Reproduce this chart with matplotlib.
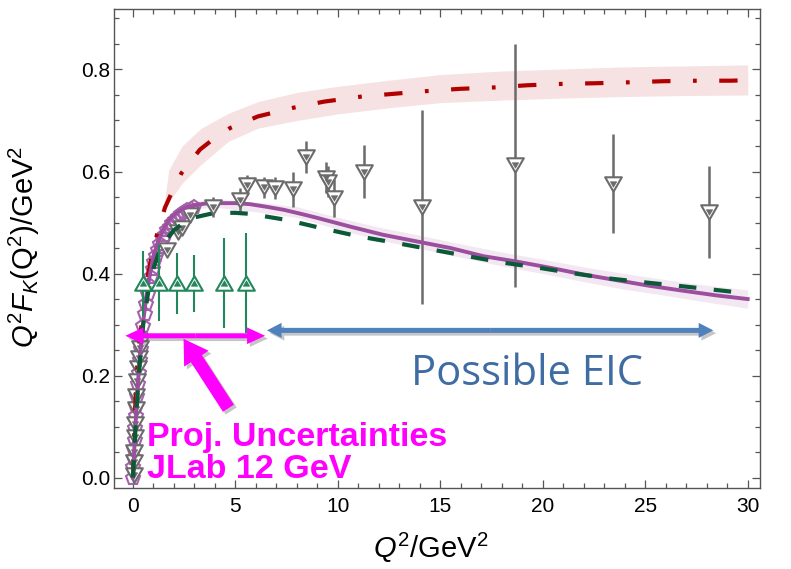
import matplotlib
matplotlib.use("Agg")
import matplotlib.pyplot as plt
import matplotlib.patheffects as pe
from matplotlib.patches import FancyArrowPatch
from matplotlib.ticker import MultipleLocator, FormatStrFormatter
from matplotlib.path import Path

plt.rcParams["font.family"] = ["Liberation Sans", "DejaVu Sans"]
plt.rcParams["mathtext.fontset"] = "custom"
plt.rcParams["mathtext.rm"] = "Liberation Sans"
plt.rcParams["mathtext.it"] = "Liberation Sans:italic"

# ---- theory curves -------------------------------------------------------
purple_x = [0.0, 0.1, 0.2, 0.3, 0.4, 0.5, 0.65, 0.8, 1.0, 1.25, 1.5, 1.75, 2.0, 2.5, 3.0,
            3.5, 4.0, 4.5, 5.0, 5.7, 6.5, 7.35, 8.2, 9.0, 10.6, 12.2, 14.1, 15.5, 17.1,
            18.65, 20.4, 22.0, 23.6, 25.2, 26.9, 28.5, 30.0]
purple_y = [0.0, 0.085, 0.158, 0.218, 0.265, 0.305, 0.355, 0.392, 0.433, 0.466, 0.488, 0.505,
            0.515, 0.528, 0.534, 0.537, 0.538, 0.538, 0.538, 0.536, 0.531, 0.525, 0.517,
            0.509, 0.492, 0.476, 0.461, 0.450, 0.434, 0.424, 0.411, 0.398, 0.387, 0.376,
            0.366, 0.357, 0.350]

purple_band_x = [1.0, 2.0, 3.0, 4.0, 6.0, 8.0, 10.0, 12.0, 14.0, 16.0, 18.0, 20.0, 22.0,
                 24.0, 26.0, 28.0, 30.0]
purple_band_hi = [0.438, 0.521, 0.541, 0.546, 0.540, 0.531, 0.510, 0.491, 0.475, 0.458,
                  0.442, 0.428, 0.413, 0.400, 0.388, 0.377, 0.368]
purple_band_lo = [0.428, 0.509, 0.527, 0.530, 0.521, 0.510, 0.487, 0.466, 0.449, 0.432,
                  0.415, 0.400, 0.384, 0.369, 0.357, 0.344, 0.332]

green_x = [0.0, 0.1, 0.2, 0.3, 0.5, 0.75, 1.0, 1.25, 1.5, 2.0, 2.5, 3.0, 4.0, 5.0, 5.72,
           7.5, 9.2, 11.0, 12.7, 14.45, 16.2, 17.95, 19.7, 21.4, 23.1, 24.9, 26.6, 28.4, 30.0]
green_y = [0.0, 0.08, 0.15, 0.21, 0.30, 0.365, 0.41, 0.44, 0.46, 0.485, 0.50, 0.51, 0.519,
           0.519, 0.517, 0.505, 0.489, 0.473, 0.461, 0.448, 0.435, 0.422, 0.412, 0.401,
           0.391, 0.383, 0.376, 0.368, 0.361]

red_x = [0.0, 0.1, 0.2, 0.3, 0.45, 0.6, 0.75, 1.0, 1.15, 1.56, 2.0, 2.37, 3.27, 4.0, 4.73,
         6.1, 7.83, 9.33, 11.17, 12.63, 14.45, 15.93, 17.76, 19.22, 21.09, 22.55, 24.37,
         25.88, 27.67, 29.18, 30.0]
red_y = [0.0, 0.13, 0.21, 0.26, 0.31, 0.36, 0.40, 0.45, 0.473, 0.529, 0.568, 0.597, 0.643,
         0.666, 0.685, 0.708, 0.725, 0.737, 0.747, 0.752, 0.758, 0.762, 0.765, 0.769,
         0.772, 0.773, 0.775, 0.777, 0.778, 0.778, 0.779]

red_band_x = [1.5, 1.75, 2.4, 3.3, 4.65, 6.1, 8.0, 10.0, 12.5, 15.0, 18.0, 21.0, 24.0,
              27.0, 30.0]
red_band_hi = [0.530, 0.603, 0.650, 0.684, 0.714, 0.737, 0.755, 0.767, 0.779, 0.790,
               0.797, 0.801, 0.805, 0.807, 0.809]
red_band_lo = [0.527, 0.540, 0.577, 0.613, 0.659, 0.685, 0.700, 0.713, 0.725, 0.735,
               0.740, 0.744, 0.747, 0.749, 0.750]

# ---- data points ---------------------------------------------------------
pent_x = [0.00, 0.02, 0.04, 0.06, 0.08, 0.11, 0.14, 0.17, 0.20, 0.24, 0.28, 0.33, 0.38,
          0.44, 0.50, 0.57, 0.64, 0.72, 0.80, 0.88, 0.96, 1.05, 1.14, 1.24, 1.34, 1.45,
          1.56, 1.68, 1.80, 1.93, 2.06, 2.20, 2.35, 2.50, 2.66, 2.82, 3.00]
pent_y = [0.000, 0.020, 0.038, 0.056, 0.073, 0.097, 0.120, 0.140, 0.160, 0.183, 0.205,
          0.230, 0.252, 0.276, 0.298, 0.320, 0.340, 0.360, 0.378, 0.394, 0.408, 0.422,
          0.434, 0.446, 0.457, 0.467, 0.476, 0.485, 0.492, 0.499, 0.505, 0.511, 0.516,
          0.520, 0.524, 0.527, 0.530]

lowq_x = [0.03, 0.04, 0.06, 0.08, 0.11, 0.14, 0.17, 0.21, 0.25, 0.29, 0.33,
          1.65, 2.22, 2.39, 2.80]
lowq_y = [0.005, 0.030, 0.050, 0.080, 0.105, 0.135, 0.160, 0.190, 0.215, 0.235, 0.255,
          0.446, 0.482, 0.489, 0.515]

data_x = [3.92, 5.22, 5.59, 6.40, 6.94, 7.80, 8.44, 9.43, 9.50, 9.83, 11.28, 14.13,
          18.65, 23.44, 28.13]
data_y = [0.531, 0.545, 0.573, 0.569, 0.568, 0.565, 0.629, 0.588, 0.580, 0.548, 0.600,
          0.530, 0.612, 0.576, 0.520]
data_err = [0.020, 0.022, 0.020, 0.020, 0.022, 0.034, 0.031, 0.030, 0.030, 0.038, 0.052,
            0.190, 0.238, 0.097, 0.090]

proj_x = [0.49, 1.25, 2.14, 3.00, 4.42, 5.51]
proj_y = [0.381, 0.381, 0.381, 0.381, 0.381, 0.381]
proj_err = [0.064, 0.075, 0.060, 0.056, 0.088, 0.098]

# ---- colours -------------------------------------------------------------
PURPLE = "#9B4F9E"
PURPLE_BAND = "#F3E8F2"
PENT = "#A462AA"
RED = "#B10000"
RED_BAND = "#F6E2E2"
DKGREEN = "#0A5A38"
GRAY = "#6B6B6B"
PGREEN = "#22885B"
MAGENTA = "#FF00FF"
BLUE = "#4F81BD"
BLUE_TEXT = "#3F6CA3"

fig = plt.figure(figsize=(7.91, 5.69), dpi=100)
ax = fig.add_axes([0.1445, 0.1418, 0.8163, 0.8419])

# bands
ax.fill_between(red_band_x, red_band_lo, red_band_hi, color=RED_BAND, lw=0, zorder=1)
ax.fill_between(purple_band_x, purple_band_lo, purple_band_hi, color=PURPLE_BAND, lw=0,
                zorder=1)

# equilateral triangle markers
tri_down = Path([(-1, 0.866), (1, 0.866), (0, -0.866), (-1, 0.866)],
                [Path.MOVETO, Path.LINETO, Path.LINETO, Path.CLOSEPOLY])
tri_up = Path([(-1, -0.866), (1, -0.866), (0, 0.866), (-1, -0.866)],
              [Path.MOVETO, Path.LINETO, Path.LINETO, Path.CLOSEPOLY])

# dense low-Q2 points (drawn beneath the curves)
ax.plot(pent_x, pent_y, ls="none", marker="p", ms=10, mfc="none", mec=PENT, mew=1.5,
        zorder=2)
ax.plot(lowq_x, lowq_y, ls="none", marker=tri_down, ms=12, mfc="white", mec=GRAY,
        mew=1.5, zorder=2.2)
ax.plot(lowq_x, lowq_y, ls="none", marker=tri_down, ms=4.5, mfc=GRAY, mec=GRAY,
        mew=0.5, zorder=2.3)

# error bars of the data
ax.errorbar(data_x, data_y, yerr=data_err, fmt="none", ecolor=GRAY, elinewidth=1.8,
            capsize=0, zorder=2.4)

# curves
l_red, = ax.plot(red_x, red_y, color=RED, lw=3, zorder=3)
l_red.set_dashes([4.4, 5.4, 0.9, 5.4])
l_red.set_dash_capstyle("butt")
ax.plot(purple_x, purple_y, color=PURPLE, lw=2.8, zorder=3.1)
l_grn, = ax.plot(green_x, green_y, color=DKGREEN, lw=3, zorder=3.2)
l_grn.set_dashes([4.2, 4.2])
l_grn.set_dash_capstyle("butt")

# data markers
ax.plot(data_x, data_y, ls="none", marker=tri_down, ms=12, mfc="white", mec=GRAY,
        mew=1.5, zorder=4)
ax.plot(data_x, data_y, ls="none", marker=tri_down, ms=4.5, mfc=GRAY, mec=GRAY,
        mew=0.5, zorder=4.1)

# projected uncertainties
ax.errorbar(proj_x, proj_y, yerr=proj_err, fmt="none", ecolor=PGREEN, elinewidth=1.5,
            capsize=0, zorder=4.2)
ax.plot(proj_x, proj_y, ls="none", marker=tri_up, ms=12, mfc="white", mec=PGREEN,
        mew=1.5, zorder=4.3)
ax.plot(proj_x, proj_y, ls="none", marker=tri_up, ms=4.5, mfc=PGREEN, mec=PGREEN,
        mew=0.5, zorder=4.4)

# ---- annotations ---------------------------------------------------------
shadow = [pe.SimplePatchShadow(offset=(2, -2), shadow_rgbFace="0.35", alpha=0.35),
          pe.Normal()]


def double_arrow(x0, x1, y, color, tail, hw, hl):
    mid = 0.5 * (x0 + x1)
    style = f"simple,head_length={hl},head_width={hw},tail_width={tail}"
    for end in (x0, x1):
        a = FancyArrowPatch((mid, y), (end, y), arrowstyle=style, mutation_scale=1,
                            color=color, lw=0, shrinkA=0, shrinkB=0, zorder=5)
        a.set_path_effects(shadow)
        ax.add_patch(a)


double_arrow(6.54, 28.32, 0.2886, BLUE, 3.6, 10.8, 10.5)
double_arrow(-0.37, 6.45, 0.278, MAGENTA, 3.6, 12.0, 13.0)

big = FancyArrowPatch((4.66, 0.136), (2.47, 0.272),
                      arrowstyle="simple,head_length=17,head_width=21,tail_width=9.4",
                      mutation_scale=1, color=MAGENTA, lw=0, shrinkA=0, shrinkB=0,
                      zorder=5)
big.set_path_effects(shadow)
ax.add_patch(big)

ax.text(19.23, 0.182, "Possible EIC", color=BLUE_TEXT, fontsize=30, family="Open Sans",
        ha="center", va="baseline", zorder=6)
ax.text(0.70, 0.061, "Proj. Uncertainties", color=MAGENTA, fontsize=24.5,
        fontweight="bold", ha="left", va="baseline", zorder=6)
ax.text(0.70, -0.001, "JLab 12 GeV", color=MAGENTA, fontsize=24.5,
        fontweight="bold", ha="left", va="baseline", zorder=6)

# ---- axes ----------------------------------------------------------------
ax.set_xlim(-0.91, 30.6)
ax.set_ylim(-0.021, 0.918)
ax.xaxis.set_major_locator(MultipleLocator(5))
ax.xaxis.set_minor_locator(MultipleLocator(1))
ax.yaxis.set_major_locator(MultipleLocator(0.2))
ax.yaxis.set_minor_locator(MultipleLocator(0.05))
ax.yaxis.set_major_formatter(FormatStrFormatter("%.1f"))
ax.tick_params(which="both", direction="in", top=True, right=True, color="#555555",
               width=0.9, labelsize=15)
ax.tick_params(axis="y", pad=3)
ax.tick_params(axis="x", pad=6)
ax.tick_params(which="major", length=6)
ax.tick_params(which="minor", length=3.5)
for s in ax.spines.values():
    s.set_color("#555555")
    s.set_linewidth(1.0)

ax.set_xlabel(r"$Q^2/\mathrm{GeV}^2$", fontsize=21)
ax.set_ylabel(r"$Q^2F_K(\mathrm{Q}^2)/\mathrm{GeV}^2$", fontsize=21)
ax.xaxis.set_label_coords(0.49, -0.088)
ax.yaxis.set_label_coords(-0.112, 0.505)

fig.savefig("out.png", dpi=100)
